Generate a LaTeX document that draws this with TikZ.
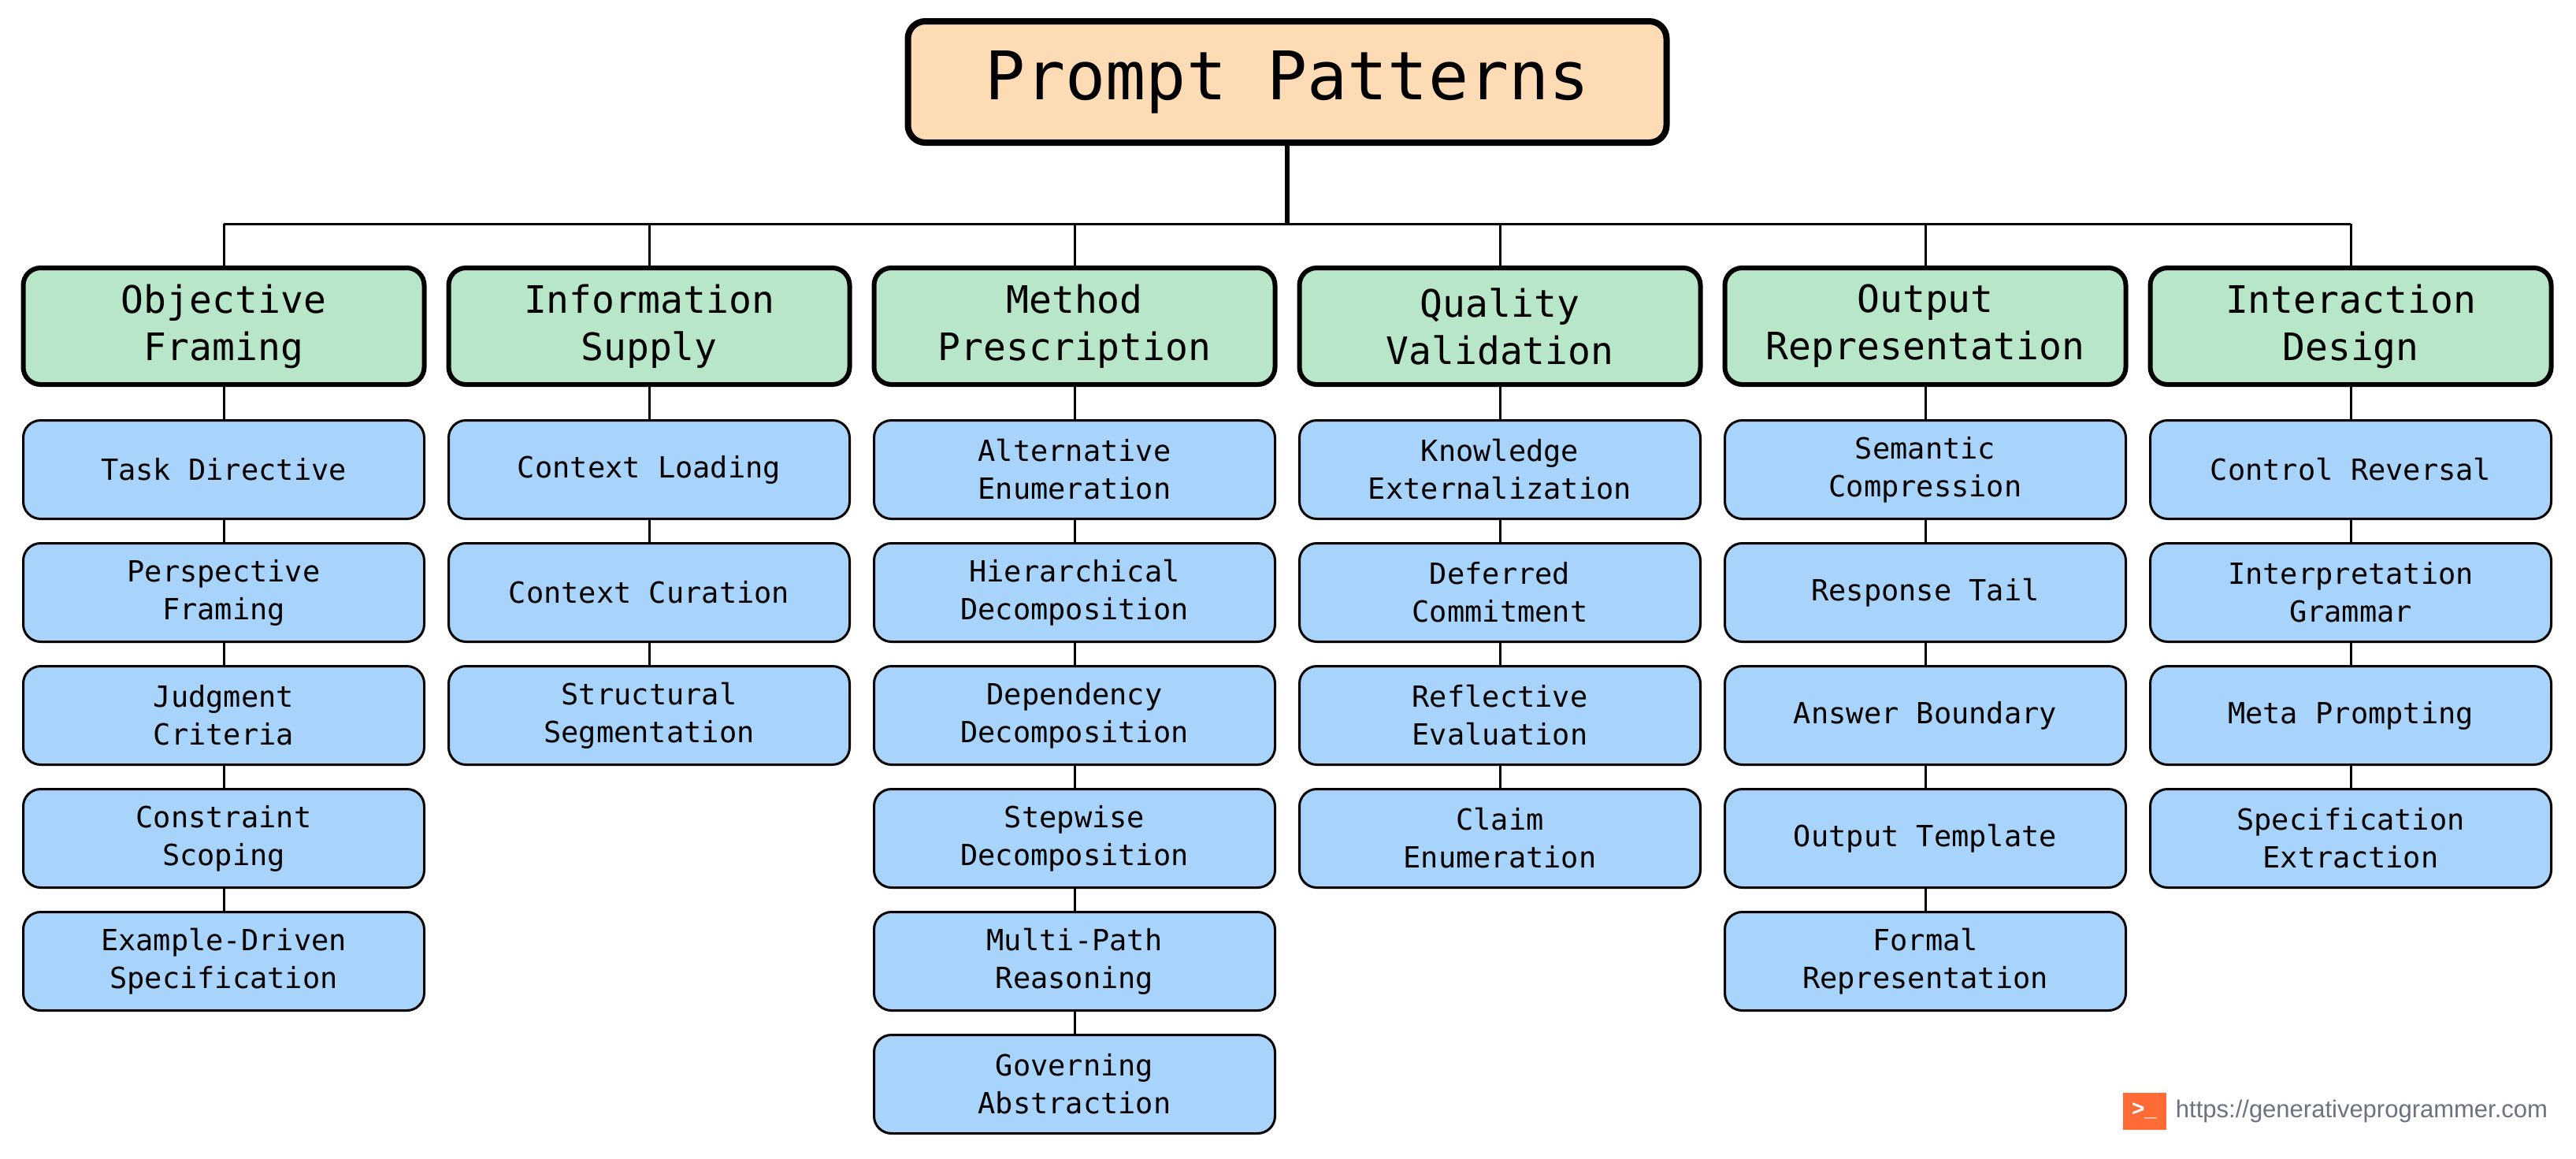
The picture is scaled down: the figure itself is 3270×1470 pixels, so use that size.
\documentclass[tikz,border=0pt]{standalone}
\usepackage{fontspec}
\setmonofont{DejaVu Sans Mono}
\setsansfont{Liberation Sans}
\usetikzlibrary{calc}
\usetikzlibrary{positioning}
\definecolor{peach}{HTML}{FDDBB4}
\definecolor{mint}{HTML}{B8E6C8}
\definecolor{sky}{HTML}{A8D4FC}
\definecolor{brand}{HTML}{FF6B35}
\definecolor{urlgrey}{HTML}{6B7280}
\tikzset{
  root/.style={draw, line width=8pt, rounded corners=22pt, fill=peach, minimum width=963pt, minimum height=154pt, font=\ttfamily\fontsize{85}{100}\selectfont},
  group/.style={draw, line width=6pt, rounded corners=22pt, fill=mint, minimum width=509pt, minimum height=148pt, align=center, font=\ttfamily\fontsize{48}{60}\selectfont},
  leaf/.style={draw, line width=3pt, rounded corners=22pt, fill=sky, minimum width=509pt, minimum height=125pt, align=center, font=\ttfamily\fontsize{37}{48}\selectfont},
  link/.style={line width=3pt}
}
\begin{document}
\begin{tikzpicture}[x=1pt, y=-1pt]
    \useasboundingbox (0,0) rectangle (3270,1470);

    \coordinate (bus) at (1634,284);
    \node (G1) at (284,414) [group] {Objective\\Framing};
    \node (G2) at (824,414) [group] {Information\\Supply};
    \node (G3) at (1364,414) [group] {Method\\Prescription};
    \node (G4) at (1904,414) [group] {Quality\\Validation};
    \node (G5) at (2444,414) [group] {Output\\Representation};
    \node (G6) at (2984,414) [group] {Interaction\\Design};

    % connectors first, boxes are drawn over them
    \draw [link] (G1.north |- bus) -- (G6.north |- bus);
    \foreach \g in {1,...,6}
        \draw [link] (G\g.north |- bus) -- (G\g.north);

    % leaves, column by column
    \foreach \t [count=\k] in {Task Directive, Perspective\\Framing, Judgment\\Criteria, Constraint\\Scoping, Example-Driven\\Specification}
        \node (L1\k) at (284,440+156*\k) [leaf] {\t};
    \foreach \t [count=\k] in {Context Loading, Context Curation, Structural\\Segmentation}
        \node (L2\k) at (824,440+156*\k) [leaf] {\t};
    \foreach \t [count=\k] in {Alternative\\Enumeration, Hierarchical\\Decomposition, Dependency\\Decomposition, Stepwise\\Decomposition, Multi-Path\\Reasoning, Governing\\Abstraction}
        \node (L3\k) at (1364,440+156*\k) [leaf] {\t};
    \foreach \t [count=\k] in {Knowledge\\Externalization, Deferred\\Commitment, Reflective\\Evaluation, Claim\\Enumeration}
        \node (L4\k) at (1904,440+156*\k) [leaf] {\t};
    \foreach \t [count=\k] in {Semantic\\Compression, Response Tail, Answer Boundary, Output Template, Formal\\Representation}
        \node (L5\k) at (2444,440+156*\k) [leaf] {\t};
    \foreach \t [count=\k] in {Control Reversal, Interpretation\\Grammar, Meta Prompting, Specification\\Extraction}
        \node (L6\k) at (2984,440+156*\k) [leaf] {\t};

    \foreach \g/\n in {1/5, 2/3, 3/6, 4/4, 5/5, 6/4} {
        \draw [link] (G\g.south) -- (L\g1.north);
        \foreach \k [remember=\k as \p (initially 1)] in {2,...,\n}
            \draw [link] (L\g\p.south) -- (L\g\k.north);
    }

    \node (T) at (1634,104) [root] {Prompt Patterns};
    \draw [line width=6pt] (T.south) -- (bus);

    \node (logo) at (2722,1410) [fill=brand, minimum width=55pt, minimum height=47pt, inner sep=0pt, text=white, font=\sffamily\bfseries\fontsize{28}{30}\selectfont] {>\_};
    \node (url) [right=12pt of logo, inner sep=0pt, text=urlgrey, font=\sffamily\fontsize{31}{36}\selectfont] {https://generativeprogrammer.com};
\end{tikzpicture}
\end{document}
